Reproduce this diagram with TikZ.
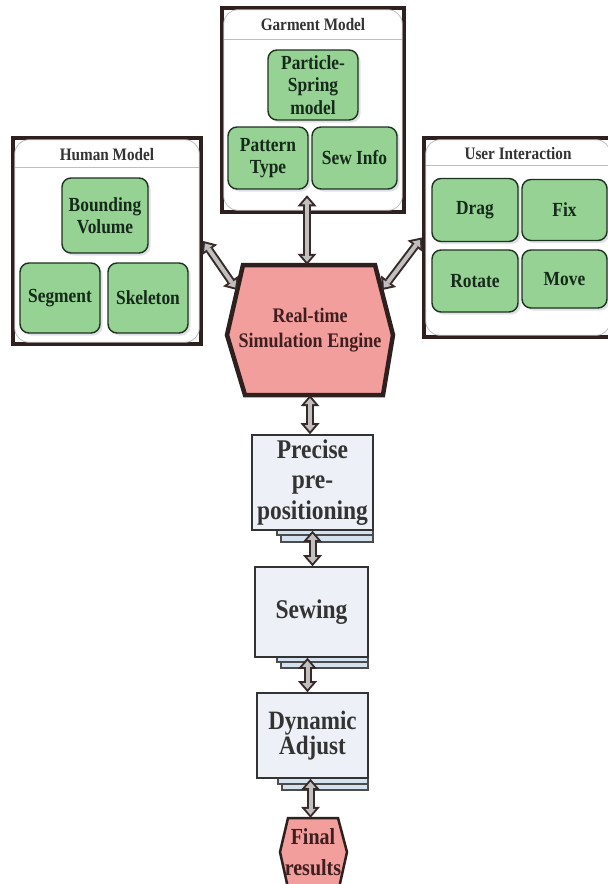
\documentclass[tikz,border=0pt]{standalone}
\usepackage{fontspec}
\setmainfont[FakeStretch=0.87]{Liberation Serif}
\usetikzlibrary{arrows.meta, shadows, calc}
\definecolor{framecol}{RGB}{45,32,30}
\definecolor{leaf}{RGB}{150,210,148}
\definecolor{leafline}{RGB}{30,50,32}
\definecolor{leaftext}{RGB}{22,42,26}
\definecolor{engcol}{RGB}{242,158,156}
\definecolor{engtext}{RGB}{62,30,30}
\definecolor{stepfill}{RGB}{237,241,247}
\definecolor{backfill}{RGB}{212,226,240}
\definecolor{arrowfill}{RGB}{192,192,192}
\definecolor{arrowline}{RGB}{55,42,40}

\begin{document}
\begin{tikzpicture}[x=1pt, y=-1pt,
    frame/.style={rectangle, draw=framecol, line width=4.5pt, fill=white, inner sep=0pt},
    panel/.style={draw=black!25, line width=0.8pt, rounded corners=14pt},
    hdr/.style={font=\bfseries\fontsize{17.5}{19}\selectfont, text=black!80},
    leafbox/.style={rectangle, rounded corners=9pt, draw=leafline, line width=1.4pt, fill=leaf,
                    align=center, inner sep=2pt, text=leaftext,
                    font=\bfseries\fontsize{20}{22.5}\selectfont,
                    drop shadow={shadow xshift=2.5pt, shadow yshift=-2.5pt, fill=blue!15!gray!35, opacity=0.6}},
    stepbox/.style={rectangle, draw=black!80, line width=1.6pt, fill=stepfill, align=center,
                    inner sep=2pt, text=black!80, font=\bfseries\fontsize{27}{30.5}\selectfont},
    backpage/.style={fill=backfill, draw=black!70, line width=1.2pt},
    hexshape/.style={draw=framecol, fill=engcol, line join=miter},
    dbl/.style={draw=arrowline, line width=8pt,
                {Triangle[length=11pt,width=19pt,line width=0pt]}-{Triangle[length=11pt,width=19pt,line width=0pt]},
                postaction={draw=arrowfill, line width=4pt, shorten <=3pt, shorten >=3pt,
                {Triangle[length=6pt,width=10.3pt,line width=0pt]}-{Triangle[length=6pt,width=10.3pt,line width=0pt]}}}]

    \useasboundingbox (0,0) rectangle (608,884);
    \fill[white] (0,0) rectangle (608,884);

    % Frames
    \node[frame, minimum width=182pt, minimum height=204pt] (garment) at (313,110) {};
    \node[frame, minimum width=188pt, minimum height=206pt] (human) at (107,241) {};
    \node[frame, minimum width=188pt, minimum height=199pt] (user) at (518,237.5) {};
    \foreach \f/\h in {garment/34, human/32, user/30} {
        \draw[panel] ([shift={(4pt,-4pt)}]\f.north west) rectangle ([shift={(-4pt,4pt)}]\f.south east);
        \draw[panel, rounded corners=0pt] ($(\f.north west)+(4pt,-\h pt)$) -- ($(\f.north east)+(-4pt,-\h pt)$);
    }
    \node[hdr] (garmenthdr) at (313,25) {Garment Model};
    \node[hdr] (humanhdr) at (107,155) {Human Model};
    \node[hdr] (userhdr) at (518,154) {User Interaction};

    % Garment model
    \node[leafbox, minimum width=90pt, minimum height=70pt] (particle) at (313,85) {Particle-\\Spring\\model};
    \node[leafbox, minimum width=80pt, minimum height=62pt] (pattern) at (268,158) {Pattern\\Type};
    \node[leafbox, minimum width=85pt, minimum height=62pt] (sewinfo) at (354.5,158) {Sew Info};

    % Human model
    \node[leafbox, minimum width=86pt, minimum height=75pt] (bounding) at (105,215.5) {Bounding\\Volume};
    \node[leafbox, minimum width=80pt, minimum height=70pt] (segment) at (60,298) {Segment};
    \node[leafbox, minimum width=80pt, minimum height=70pt] (skeleton) at (148,298) {Skeleton};

    % User interaction
    \node[leafbox, minimum width=86pt, minimum height=63pt] (drag) at (475,210) {Drag};
    \node[leafbox, minimum width=85pt, minimum height=61pt] (fix) at (564.5,210) {Fix};
    \node[leafbox, minimum width=86pt, minimum height=62pt] (rotate) at (475,281) {Rotate};
    \node[leafbox, minimum width=85pt, minimum height=58pt] (move) at (564.5,279) {Move};

    % Engine
    \draw[hexshape, line width=4.5pt] (243,265) -- (375,265) -- (393,335) -- (383,395) -- (245,395) -- (227,335) -- cycle;
    \node[align=center, text=engtext, font=\bfseries\fontsize{20.7}{25}\selectfont,
          minimum width=166pt, minimum height=130pt] (engine) at (310,330) {Real-time\\Simulation Engine};
    \coordinate (engleft) at (237,290);
    \coordinate (engright) at (382,290);

    % Steps
    \filldraw[backpage] (281,500) rectangle (373,542);
    \filldraw[backpage] (277,500) rectangle (373,535);
    \node[stepbox, minimum width=121pt, minimum height=95pt] (precise) at (312.5,482.5) {Precise\\pre-\\positioning};
    \filldraw[backpage] (281,620) rectangle (368,668);
    \filldraw[backpage] (277,620) rectangle (368,662);
    \node[stepbox, minimum width=113pt, minimum height=90pt] (sewing) at (311.5,612) {Sewing};
    \filldraw[backpage] (282,740) rectangle (368,790);
    \filldraw[backpage] (278,740) rectangle (368,784);
    \node[stepbox, minimum width=111pt, minimum height=85pt, font=\bfseries\fontsize{26.5}{25}\selectfont] (dynamic) at (312.5,735.5) {Dynamic\\Adjust};

    % Final
    \draw[hexshape, line width=2.5pt] (288,818) -- (338,818) -- (347,852) -- (339,888) -- (288,888) -- (280,852) -- cycle;
    \node[align=center, text=engtext, inner sep=0pt, font=\bfseries\fontsize{23}{31}\selectfont,
          minimum width=66pt, minimum height=68pt] (final) at (313,852) {Final\\results};

    % Arrows
    \draw[dbl] ([xshift=-6pt,yshift=19pt]garment.south) -- ([xshift=-6pt]garment.south |- engine.north);
    \draw[dbl] (human.east) -- (engleft);
    \draw[dbl] (user.west) -- (engright);
    \draw[dbl] (engine.south) -- (engine.south |- precise.north);
    \draw[dbl] (precise.south) -- (precise.south |- sewing.north);
    \draw[dbl] ([xshift=-4pt]sewing.south) -- ([xshift=-4pt]sewing.south |- dynamic.north);
    \draw[dbl] ([xshift=-2pt]dynamic.south) -- ([xshift=-2pt]dynamic.south |- final.north);
\end{tikzpicture}
\end{document}
